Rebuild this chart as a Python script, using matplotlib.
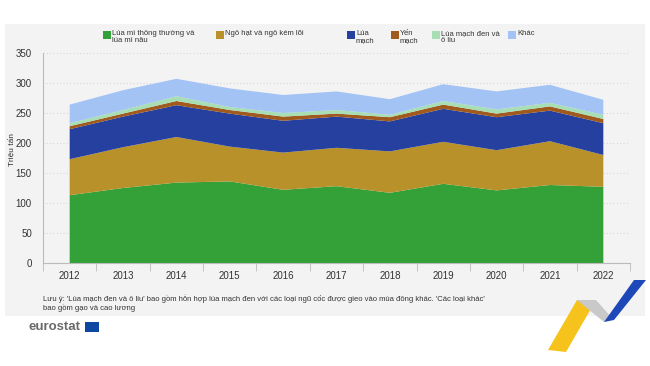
import numpy as np
import matplotlib.pyplot as plt
from matplotlib.patches import Rectangle, Polygon

plt.rcParams['font.family'] = ['Liberation Sans', 'DejaVu Sans']

# Dữ liệu (triệu tấn)
years = [2012, 2013, 2014, 2015, 2016, 2017, 2018, 2019, 2020, 2021, 2022]
lua_mi = [113, 125, 134, 136, 122, 128, 117, 132, 121, 130, 127]
ngo = [60, 68, 76, 58, 62, 64, 69, 70, 67, 73, 53]
lua_mach = [50, 51, 53, 55, 53, 52, 50, 55, 55, 51, 53]
yen_mach = [5, 5, 7, 6, 7, 5, 7, 7, 6, 7, 7]
lua_mach_den = [5, 6, 8, 5, 6, 6, 4, 6, 7, 6, 7]
khac = [31, 33, 29, 31, 30, 31, 26, 28, 30, 30, 25]

labels = ["Lúa mì thông thường và\nlúa mì nâu", "Ngô hạt và ngô kém lõi", "Lúa\nmạch",
          "Yến\nmạch", "Lúa mạch đen và\nô liu", "Khác"]
colors = ["#33a038", "#b8912b", "#25409f", "#a05a1e", "#a8deb3", "#a3c3f4"]
note = ("Lưu ý: 'Lúa mạch đen và ô liu' bao gồm hỗn hợp lúa mạch đen với các loại ngũ cốc được gieo vào mùa đông khác. 'Các loại khác'\n"
        "bao gồm gạo và cao lương")

fig = plt.figure(figsize=(6.5, 3.66), dpi=100)
fig.patch.set_facecolor("white")

# nền xám
fig.patches.append(Rectangle((5 / 650, 1 - 316 / 366), 640 / 650, 292 / 366,
                             transform=fig.transFigure, facecolor="#f3f3f3",
                             edgecolor="none", zorder=-5))

ax = fig.add_axes([43 / 650, 1 - 263 / 366, 587 / 650, 210 / 366])
ax.set_facecolor("none")
ax.stackplot(years, lua_mi, ngo, lua_mach, yen_mach, lua_mach_den, khac,
             colors=colors, linewidth=0)

ax.set_xlim(2011.5, 2022.5)
ax.set_ylim(0, 350)
ax.set_yticks(np.arange(0, 351, 50))
ax.set_xticks(years)
ax.set_xticks(np.arange(2011.5, 2023, 1), minor=True)
ax.tick_params(axis="x", which="major", length=0, labelsize=7, colors="#333333", pad=6)
ax.tick_params(axis="x", which="minor", length=6, color="#bbbbbb")
ax.tick_params(axis="y", length=0, labelsize=7, colors="#333333", pad=8)
ax.grid(axis="y", linestyle=(0, (1, 2)), color="#d8d8d8", linewidth=0.8)
ax.set_axisbelow(True)
for s in ["top", "right"]:
    ax.spines[s].set_visible(False)
ax.spines["left"].set_color("#bbbbbb")
ax.spines["bottom"].set_color("#bbbbbb")
ax.set_ylabel("Triệu tấn", fontsize=6, color="#333333")
ax.yaxis.set_label_coords(-0.048, 0.54)

# chú giải
leg_x = [103, 216, 347, 391, 432, 508]
for x, lab, c in zip(leg_x, labels, colors):
    fig.patches.append(Rectangle((x / 650, 1 - 39 / 366), 8 / 650, 8 / 366,
                                 transform=fig.transFigure, facecolor=c, edgecolor="none"))
    fig.text((x + 9) / 650, 1 - 30 / 366, lab, fontsize=5.5, color="#333333",
             va="top", ha="left", linespacing=1.1)

fig.text(43 / 650, 1 - 294 / 366, note, fontsize=5.5, color="#333333", va="top",
         ha="left", linespacing=1.15)

# logo
fig.text(29 / 650, 1 - 327 / 366, "eurostat", fontsize=9.5, fontweight="bold",
         color="#6b6b6b", va="center", ha="left")
fig.patches.append(Rectangle((85 / 650, 1 - 332 / 366), 14 / 650, 10 / 366,
                             transform=fig.transFigure, facecolor="#0e47a1", edgecolor="none"))

# hình trang trí
def fpoly(pts, color):
    fig.patches.append(Polygon([(x / 650, 1 - y / 366) for x, y in pts], closed=True,
                               transform=fig.transFigure, facecolor=color, edgecolor="none"))

fpoly([(548, 350), (577, 300), (596, 300), (566, 352)], "#f6c31c")
fpoly([(577, 300), (596, 300), (612, 318), (604, 322)], "#c9c9c9")
fpoly([(604, 322), (634, 280), (646, 280), (614, 320)], "#1e47b8")

fig.savefig("out.png", dpi=100)
